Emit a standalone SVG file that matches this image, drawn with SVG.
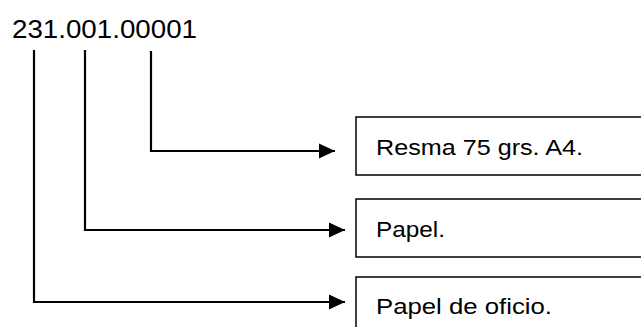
<svg xmlns="http://www.w3.org/2000/svg" width="641" height="327" viewBox="0 0 641 327">
  <style>
    .code { font-family: "Liberation Sans", Arial, sans-serif; font-size: 25.5px; fill: #000; }
    .label { font-family: "Liberation Sans", Arial, sans-serif; font-size: 21.5px; fill: #000; }
    .box { fill: #fff; stroke: #000; stroke-width: 1.5; }
    .wire { fill: none; stroke: #000; stroke-width: 2.2; }
  </style>
  <defs>
    <marker id="head" markerUnits="userSpaceOnUse" markerWidth="17" markerHeight="16" refX="16" refY="8" orient="auto">
      <path d="M0,0.5 L16,8 L0,15.5 Z" fill="#000"/>
    </marker>
  </defs>
  <rect width="641" height="327" fill="#fff"/>

  <g id="code">
    <text class="code" x="12" y="37.5" textLength="185" lengthAdjust="spacingAndGlyphs">231.001.00001</text>
  </g>

  <g id="item">
    <rect class="box" x="356" y="117" width="300" height="58"/>
    <text class="label" x="376" y="155" textLength="207" lengthAdjust="spacingAndGlyphs">Resma 75 grs. A4.</text>
  </g>
  <g id="subgroup">
    <rect class="box" x="356" y="199" width="300" height="58"/>
    <text class="label" x="376" y="237" textLength="69" lengthAdjust="spacingAndGlyphs">Papel.</text>
  </g>
  <g id="group">
    <rect class="box" x="356" y="277" width="300" height="70"/>
    <text class="label" x="376" y="314" textLength="176" lengthAdjust="spacingAndGlyphs">Papel de oficio.</text>
  </g>

  <g id="connectors">
    <path class="wire" d="M151,51 V151 H335" marker-end="url(#head)"/>
    <path class="wire" d="M85,50 V230 H345" marker-end="url(#head)"/>
    <path class="wire" d="M34,50 V302 H345" marker-end="url(#head)"/>
  </g>
</svg>
